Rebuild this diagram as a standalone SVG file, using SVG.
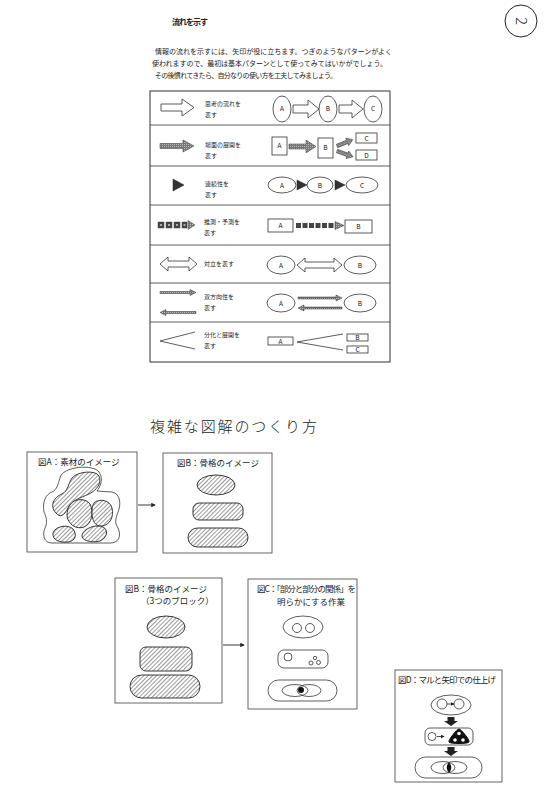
<svg xmlns="http://www.w3.org/2000/svg" width="547" height="789" viewBox="0 0 547 789">
<style>
text{font-family:"Noto Sans CJK JP","Liberation Sans",sans-serif;fill:#222}
.ln{fill:none;stroke:#333;stroke-width:0.8}
.w{fill:#fff;stroke:#333;stroke-width:0.8}
.h{fill:url(#hatch);stroke:#222;stroke-width:0.9}
.g{fill:url(#dots);stroke:#333;stroke-width:0.5}
.k{fill:#333;stroke:#222;stroke-width:0.5}
.t6{font-size:6px}
.lab{font-size:6.5px;text-anchor:middle;fill:#111}
.cap{font-size:8.5px}
.box{fill:#fff;stroke:#555;stroke-width:0.9}
</style>
<defs>
<pattern id="hatch" patternUnits="userSpaceOnUse" width="3" height="3" patternTransform="rotate(45)">
<rect width="3" height="3" fill="#fff"/><line x1="0" y1="0" x2="0" y2="3" stroke="#333" stroke-width="1"/>
</pattern>
<pattern id="dots" patternUnits="userSpaceOnUse" width="2" height="2">
<rect width="2" height="2" fill="#777"/><rect width="1" height="1" fill="#bbb"/>
</pattern>
<marker id="ah" viewBox="0 0 6 6" refX="5" refY="3" markerWidth="5" markerHeight="5" orient="auto">
<path d="M0,0 L6,3 L0,6 Z" fill="#222"/>
</marker>
</defs>
<rect width="547" height="789" fill="#fff"/>

<g id="page-number">
<circle cx="521" cy="21" r="16" fill="none" stroke="#222" stroke-width="1"/>
<text x="521" y="26" font-size="15" font-weight="300" text-anchor="middle" transform="rotate(90 521 21)">2</text>
</g>

<g id="intro">
<text x="172" y="25" font-size="8" font-weight="bold" textLength="36">流れを示す</text>
<text x="155" y="54" font-size="7" textLength="237">情報の流れを示すには、矢印が役に立ちます。つぎのようなパターンがよく</text>
<text x="152" y="66" font-size="7" textLength="235">使われますので、最初は基本パターンとして使ってみてはいかがでしょう。</text>
<text x="155" y="78" font-size="7" textLength="182">その後慣れてきたら、自分なりの使い方を工夫してみましょう。</text>
</g>

<g id="table">
<rect x="150" y="91" width="240" height="271" fill="none" stroke="#333" stroke-width="1"/>
<g class="ln" stroke-width="1">
<line x1="150" y1="125" x2="390" y2="125"/>
<line x1="150" y1="166" x2="390" y2="166"/>
<line x1="150" y1="205" x2="390" y2="205"/>
<line x1="150" y1="245" x2="390" y2="245"/>
<line x1="150" y1="283" x2="390" y2="283"/>
<line x1="150" y1="322" x2="390" y2="322"/>
</g>

<g id="row1">
<path class="w" d="M161,104 H182 V99 L194,107.5 L182,116 V111 H161 Z"/>
<text class="t6" x="205" y="106">思考の流れを</text><text class="t6" x="205" y="117">表す</text>
<ellipse class="w" cx="282" cy="109" rx="9" ry="13"/><text class="lab" x="282" y="111">A</text>
<path class="w" d="M293,105 H308 V100 L319,109 L308,118 V113 H293 Z"/>
<ellipse class="w" cx="328" cy="109" rx="9" ry="13"/><text class="lab" x="328" y="111">B</text>
<path class="w" d="M339,105 H352 V100 L363,109 L352,118 V113 H339 Z"/>
<ellipse class="w" cx="373" cy="109" rx="9" ry="13"/><text class="lab" x="373" y="111">C</text>
</g>

<g id="row2">
<path class="g" d="M160,143.5 H183 V140 L194,146 L183,152 V148.5 H160 Z"/>
<text class="t6" x="205" y="147">場面の展開を</text><text class="t6" x="205" y="158">表す</text>
<rect class="w" x="272" y="137" width="15" height="18"/><text class="lab" x="279.5" y="148">A</text>
<path class="g" d="M289,144 H306 V140 L316,146.5 L306,153 V149 H289 Z"/>
<rect class="w" x="318" y="138" width="15" height="20"/><text class="lab" x="325.5" y="150">B</text>
<path class="g" transform="translate(337,146) rotate(-22)" d="M0,-1.8 H11 V-4 L17,0 L11,4 V1.8 H0 Z"/>
<path class="g" transform="translate(337,151) rotate(20)" d="M0,-1.8 H11 V-4 L17,0 L11,4 V1.8 H0 Z"/>
<rect class="w" x="356" y="133" width="21" height="10"/><text class="lab" x="366.5" y="140.5">C</text>
<rect class="w" x="356" y="150" width="21" height="10"/><text class="lab" x="366.5" y="157.5">D</text>
</g>

<g id="row3">
<path class="k" d="M173,179 L184,185 L173,191 Z"/>
<text class="t6" x="205" y="186">連続性を</text><text class="t6" x="205" y="197">表す</text>
<ellipse class="w" cx="282" cy="185" rx="14" ry="8"/><text class="lab" x="282" y="187.5">A</text>
<path class="k" d="M297,180 L307,185 L297,190 Z"/>
<ellipse class="w" cx="320" cy="185" rx="13" ry="8"/><text class="lab" x="320" y="187.5">B</text>
<path class="k" d="M335,180 L345,185 L335,190 Z"/>
<ellipse class="w" cx="362" cy="185" rx="16" ry="8"/><text class="lab" x="362" y="187.5">C</text>
</g>

<g id="row4">
<g fill="#444" stroke="#444" stroke-width="0.5"><rect x="158" y="222" width="6" height="6"/><rect x="166" y="222" width="6" height="6"/><rect x="174" y="222" width="6" height="6"/><rect x="182" y="222" width="5" height="6"/></g>
<g fill="#aaa"><rect x="160" y="224" width="2" height="2"/><rect x="168" y="224" width="2" height="2"/><rect x="176" y="224" width="2" height="2"/><rect x="183.5" y="224" width="2" height="2"/></g>
<path class="g" d="M188,220.5 L195,225 L188,229.5 Z"/>
<text class="t6" x="204" y="224">推測・予測を</text><text class="t6" x="204" y="235">表す</text>
<rect class="w" x="268" y="219" width="25" height="13"/><text class="lab" x="280.5" y="228">A</text>
<g fill="#444"><rect x="296" y="223" width="5" height="5"/><rect x="302.5" y="223" width="5" height="5"/><rect x="309" y="223" width="5" height="5"/><rect x="315.5" y="223" width="5" height="5"/><rect x="322" y="223" width="5" height="5"/><rect x="328.5" y="223" width="5" height="5"/></g>
<path class="g" d="M335,221.5 L344,225.5 L335,229.5 Z"/>
<rect class="w" x="345" y="220" width="27" height="13"/><text class="lab" x="358.5" y="229">B</text>
</g>

<g id="row5">
<path class="w" d="M160,264 L168,257 V261 H189 V257 L197,264 L189,271 V267 H168 V271 Z"/>
<text class="t6" x="204" y="266">対立を表す</text>
<ellipse class="w" cx="281" cy="265" rx="14" ry="9"/><text class="lab" x="281" y="267.5">A</text>
<path class="w" d="M297,265 L305,258 V262 H334 V258 L342,265 L334,272 V268 H305 V272 Z"/>
<ellipse class="w" cx="360" cy="265" rx="16" ry="9"/><text class="lab" x="360" y="267.5">B</text>
</g>

<g id="row6">
<path class="g" d="M160,291.5 H190 V289.5 L196,292.5 L190,295.5 V293.5 H160 Z"/>
<path class="g" d="M196,311.5 H166 V309.5 L160,312.5 L166,315.5 V313.5 H196 Z"/>
<text class="t6" x="204" y="299">双方向性を</text><text class="t6" x="204" y="310">表す</text>
<ellipse class="w" cx="281" cy="303" rx="14" ry="9"/><text class="lab" x="281" y="305.5">A</text>
<path class="g" d="M298,297 H336 V295 L342,298 L336,301 V299 H298 Z"/>
<path class="g" d="M342,307 H304 V305 L298,308 L304,311 V309 H342 Z"/>
<ellipse class="w" cx="360" cy="303" rx="16" ry="9"/><text class="lab" x="360" y="305.5">B</text>
</g>

<g id="row7">
<polyline class="ln" points="195,332 160,341 195,349"/>
<text class="t6" x="204" y="337">分化と展開を</text><text class="t6" x="204" y="348">表す</text>
<rect class="w" x="268" y="337" width="25" height="8"/><text class="lab" x="280.5" y="343.5">A</text>
<polyline class="ln" points="343,334 297,342 343,350"/>
<rect class="w" x="347" y="334" width="21" height="7"/><text class="lab" x="357.5" y="340">B</text>
<rect class="w" x="347" y="346" width="21" height="7"/><text class="lab" x="357.5" y="352">C</text>
</g>
</g>

<g id="title2">
<text x="150" y="432" font-size="15" font-weight="200" fill="#333" textLength="167">複雑な図解のつくり方</text>
</g>

<g id="figA">
<rect class="box" x="27" y="452" width="110" height="100"/>
<text class="cap" x="38" y="465">図A：素材のイメージ</text>
<path class="ln" d="M60,478 C62,466 94,464 99,472 C104,479 100,487 97,491 L112,492 C121,494 121,505 118,512 C116,518 114,522 118,528 C122,537 118,543 110,543 L52,543 C44,543 42,535 45,528 C48,522 46,516 44,512 C42,502 46,494 52,492 C57,490 58,484 60,478 Z"/>
<path class="h" d="M56,513 C49,506 54,497 62,494 C68,491 68,484 72,478 C78,471 96,470 99,476 C102,483 97,490 89,494 C80,498 72,500 68,508 C64,516 60,518 56,513 Z"/>
<path class="h" d="M70,505 C74,498 86,498 90,504 C94,512 92,524 84,527 C76,530 68,524 67,516 C67,511 68,508 70,505 Z"/>
<path class="h" d="M94,503 C99,498 110,500 112,508 C114,517 110,525 102,526 C95,527 92,520 92,513 C92,509 92,506 94,503 Z"/>
<path class="h" d="M53,533 C55,526 68,524 73,529 C77,534 76,541 68,542 C60,543 52,540 53,533 Z"/>
<path class="h" d="M82,535 C84,528 96,524 103,527 C109,530 107,538 100,541 C92,543 81,541 82,535 Z"/>
</g>

<g id="figB1">
<rect class="box" x="163" y="453" width="109" height="100"/>
<text class="cap" x="177" y="466">図B：骨格のイメージ</text>
<ellipse class="h" cx="216" cy="485" rx="19" ry="10"/>
<rect class="h" x="193" y="503" width="50" height="17" rx="6"/>
<rect class="h" x="188" y="528" width="60" height="19" rx="9.5"/>
</g>

<g id="figB2">
<rect class="box" x="115" y="578" width="107" height="125"/>
<text class="cap" x="125" y="592">図B：骨格のイメージ</text>
<text class="cap" x="141" y="604">（3つのブロック）</text>
<ellipse class="h" cx="166" cy="627" rx="19" ry="11"/>
<rect class="h" x="140" y="647" width="52" height="24" rx="6"/>
<rect class="h" x="130" y="675" width="70" height="23" rx="11.5"/>
</g>

<g id="figC">
<rect class="box" x="248" y="579" width="109" height="130"/>
<text class="cap" x="257" y="592" textLength="99">図C：「部分と部分の関係」を</text>
<text class="cap" x="277" y="605">明らかにする作業</text>
<ellipse class="ln" cx="303" cy="627" rx="20" ry="11"/>
<circle class="ln" cx="297" cy="628" r="4.5"/>
<circle class="ln" cx="310" cy="628" r="4.5"/>
<rect class="ln" x="278" y="650" width="50" height="18" rx="6"/>
<circle class="ln" cx="288" cy="657" r="4"/>
<circle class="ln" cx="311" cy="663" r="2"/>
<circle class="ln" cx="315" cy="658" r="1.7"/>
<circle class="ln" cx="318.5" cy="662.5" r="2"/>
<rect class="ln" x="268" y="680" width="69" height="21" rx="10.5"/>
<ellipse class="ln" cx="295" cy="690.5" rx="13" ry="6"/>
<ellipse class="ln" cx="309" cy="690.5" rx="12" ry="6"/>
<circle cx="301" cy="690" r="3" fill="#111"/>
</g>

<g id="figD">
<rect class="box" x="395" y="670" width="107" height="112"/>
<text class="cap" x="398" y="683" textLength="98">図D：マルと矢印での仕上げ</text>
<ellipse class="ln" cx="451" cy="705" rx="20" ry="10"/>
<circle class="ln" cx="442" cy="704" r="5"/>
<circle class="ln" cx="459" cy="704" r="5"/>
<path d="M447,704 H454" stroke="#222" stroke-width="0.8" marker-end="url(#ah)"/>
<path d="M447.5,717 H454.5 V721 H458 L451,726 L444,721 H447.5 Z" fill="#222"/>
<rect class="ln" x="425" y="728" width="48" height="17" rx="5"/>
<circle class="ln" cx="432" cy="736.5" r="4"/>
<path d="M437,736.5 H444" stroke="#222" stroke-width="0.8" marker-end="url(#ah)"/>
<path d="M459,729 C461,729 470,740 469,742 C468,744 450,744 449,742 C448,740 457,729 459,729 Z" fill="#111" stroke="#111" stroke-width="1"/>
<circle cx="459" cy="733.5" r="1.8" fill="#fff"/>
<circle cx="455" cy="740" r="1.8" fill="#fff"/>
<circle cx="463" cy="740" r="1.8" fill="#fff"/>
<path d="M447.5,747 H454.5 V751 H458 L451,756 L444,751 H447.5 Z" fill="#222"/>
<rect class="ln" x="415" y="757" width="67" height="21" rx="10.5"/>
<ellipse class="ln" cx="443" cy="767.5" rx="12" ry="6"/>
<ellipse class="ln" cx="455" cy="767.5" rx="12" ry="6"/>
<path d="M449,762.5 C452,765 452,770 449,772.5 C446,770 446,765 449,762.5 Z" fill="#111"/>
</g>

<g id="connectors">
<line x1="138" y1="505" x2="155" y2="505" stroke="#222" stroke-width="0.9" marker-end="url(#ah)"/>
<line x1="223" y1="645" x2="244" y2="645" stroke="#222" stroke-width="0.9" marker-end="url(#ah)"/>
</g>
</svg>
